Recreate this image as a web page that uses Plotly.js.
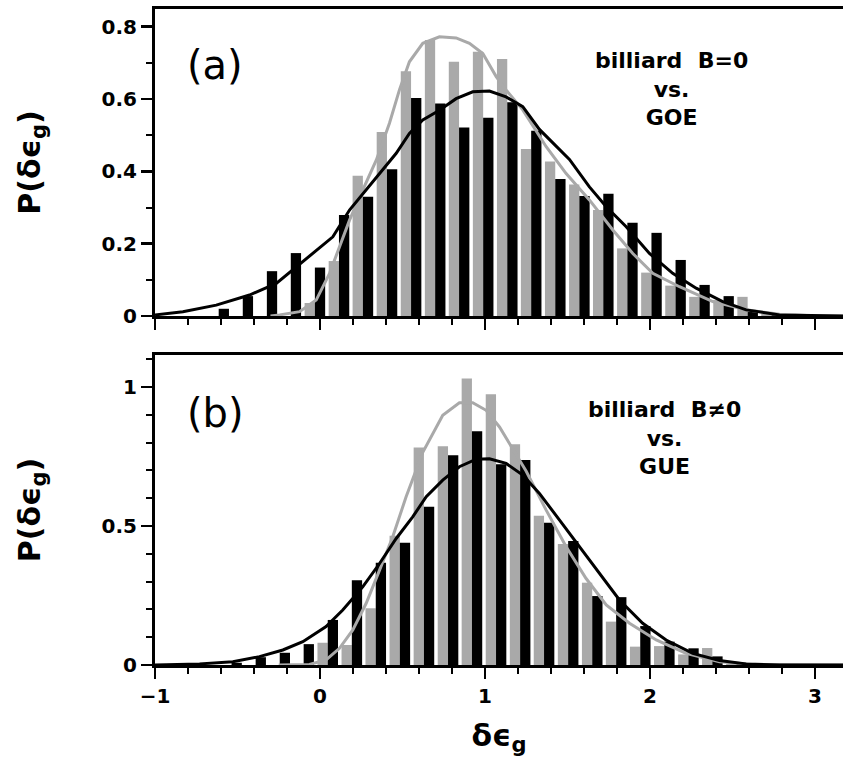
<!DOCTYPE html>
<html>
<head>
<meta charset="utf-8">
<script src="https://cdn.plot.ly/plotly-3.0.1.min.js"></script>
<style>html,body{margin:0;padding:0;background:#fff;}</style>
</head>
<body>
<div id="chart" style="width:843px;height:781px;"></div>
<script>
// ---------- Panel (a): billiard B=0 vs. GOE ----------
const binsA = [-0.614,-0.468,-0.322,-0.177,-0.031,0.115,0.260,0.406,0.552,0.698,0.843,0.989,1.135,1.280,1.426,1.572,1.717,1.863,2.009,2.155,2.300,2.446,2.592,2.737];
const grayA = [0,0,0,0,0.036,0.152,0.388,0.509,0.677,0.763,0.703,0.731,0.711,0.462,0.427,0.364,0.293,0.187,0.120,0.084,0.053,0.044,0.053,0.007];
const blackA = [0.020,0.055,0.124,0.174,0.134,0.279,0.330,0.406,0.603,0.588,0.521,0.548,0.591,0.512,0.379,0.332,0.338,0.258,0.230,0.155,0.086,0.055,0.011,0.002];

const grayCurveAx = [-0.30,-0.245,-0.124,-0.023,0.058,0.118,0.179,0.259,0.341,0.421,0.482,0.542,0.623,0.724,0.825,0.906,0.987,1.068,1.128,1.229,1.371,1.492,1.633,1.775,1.896,2.017,2.179,2.381,2.583,2.785,2.985,3.17];
const grayCurveAy = [0,0.003,0.012,0.044,0.118,0.192,0.265,0.348,0.431,0.533,0.626,0.703,0.754,0.772,0.769,0.754,0.726,0.662,0.625,0.570,0.468,0.394,0.321,0.238,0.173,0.118,0.081,0.040,0.017,0.005,0.001,0];
const blackCurveAx = [-1.0,-0.831,-0.629,-0.427,-0.265,-0.165,-0.064,0.078,0.179,0.280,0.381,0.462,0.542,0.623,0.724,0.825,0.926,1.027,1.128,1.229,1.330,1.512,1.633,1.735,1.856,1.997,2.138,2.280,2.441,2.583,2.785,3.17];
const blackCurveAy = [0.003,0.012,0.030,0.058,0.090,0.127,0.164,0.219,0.293,0.349,0.404,0.450,0.505,0.542,0.569,0.601,0.620,0.622,0.606,0.579,0.516,0.433,0.357,0.302,0.247,0.173,0.118,0.077,0.040,0.017,0.003,0];

// ---------- Panel (b): billiard B≠0 vs. GUE ----------
const binsB = [-0.536,-0.390,-0.244,-0.099,0.047,0.193,0.338,0.484,0.630,0.776,0.921,1.067,1.213,1.358,1.504,1.650,1.795,1.941,2.087,2.233,2.378,2.524];
const grayB = [0,0,0,0,0.080,0.072,0.204,0.465,0.782,0.787,1.030,0.974,0.794,0.537,0.435,0.296,0.156,0.066,0.068,0.038,0.061,0.005];
const blackB = [0.008,0.028,0.044,0.075,0.162,0.305,0.368,0.440,0.569,0.754,0.841,0.722,0.737,0.512,0.446,0.248,0.244,0.140,0.084,0.060,0.031,0.003];

const grayCurveBx = [-0.25,-0.064,0.037,0.118,0.199,0.280,0.361,0.441,0.522,0.623,0.744,0.845,0.926,1.007,1.088,1.168,1.250,1.371,1.492,1.613,1.735,1.876,2.038,2.219,2.421,2.623,3.17];
const grayCurveBy = [0,0.002,0.018,0.060,0.126,0.222,0.341,0.461,0.605,0.765,0.898,0.943,0.943,0.916,0.856,0.778,0.697,0.557,0.425,0.311,0.216,0.150,0.090,0.042,0.012,0.002,0];
const blackCurveBx = [-1.0,-0.730,-0.528,-0.367,-0.225,-0.104,0.037,0.138,0.259,0.361,0.462,0.562,0.644,0.744,0.845,0.947,1.027,1.128,1.229,1.330,1.452,1.573,1.694,1.815,1.956,2.098,2.259,2.421,2.583,2.785,3.17];
const blackCurveBy = [0,0.004,0.012,0.030,0.054,0.084,0.138,0.198,0.281,0.365,0.455,0.533,0.605,0.665,0.713,0.740,0.742,0.725,0.683,0.617,0.521,0.425,0.329,0.234,0.150,0.090,0.042,0.016,0.004,0,0];

const labelsA = ["billiard  B=0", "vs.", "GOE"];
const labelsB = ["billiard  B≠0", "vs.", "GUE"];

const GRAY = '#a9a9a9';
const BLACK = '#000000';
const FONT = 'DejaVu Sans, Liberation Sans, Arial, sans-serif';

function bar(x, y, color, xa, ya) {
  return {type:'bar', x:x, y:y, marker:{color:color, line:{width:0}}, xaxis:xa, yaxis:ya, showlegend:false, hoverinfo:'skip'};
}
function line(x, y, color, xa, ya) {
  return {type:'scatter', mode:'lines', x:x, y:y, line:{color:color, width:3}, xaxis:xa, yaxis:ya, showlegend:false, hoverinfo:'skip', cliponaxis:true};
}

const data = [
  bar(binsA, grayA, GRAY, 'x', 'y'),
  bar(binsA, blackA, BLACK, 'x', 'y'),
  line(grayCurveAx, grayCurveAy, GRAY, 'x', 'y'),
  line(blackCurveAx, blackCurveAy, BLACK, 'x', 'y'),
  bar(binsB, grayB, GRAY, 'x2', 'y2'),
  bar(binsB, blackB, BLACK, 'x2', 'y2'),
  line(grayCurveBx, grayCurveBy, GRAY, 'x2', 'y2'),
  line(blackCurveBx, blackCurveBy, BLACK, 'x2', 'y2')
];

const tickFont = {family: FONT, size: 20, color: '#000', weight: 'bold'};
const titleFont = {family: FONT, size: 30, color: '#000', weight: 'bold'};

function xax(showLabels, anchor) {
  return {
    anchor: anchor, domain:[0,1], range:[-1, 3.17], showgrid:false, zeroline:false,
    showline:true, linewidth:3, linecolor:'#000', mirror:true,
    ticks:'outside', ticklen:11, tickwidth:2.5, tickcolor:'#000', dtick:1, tick0:0,
    minor:{dtick:0.2, tick0:0, ticks:'outside', ticklen:6, tickwidth:2, tickcolor:'#000', showgrid:false},
    showticklabels: showLabels, tickfont: tickFont
  };
}
function yax(domain, range, dtick, anchor, title) {
  return {
    anchor: anchor, domain: domain, range: range, showgrid:false, zeroline:false,
    showline:true, linewidth:3, linecolor:'#000', mirror:false,
    ticks:'outside', ticklen:11, tickwidth:2.5, tickcolor:'#000', dtick:dtick, tick0:0,
    minor:{dtick:0.1, tick0:0, ticks:'outside', ticklen:6, tickwidth:2, tickcolor:'#000', showgrid:false},
    tickfont: tickFont,
    title: {text: title, font: titleFont, standoff: 53}
  };
}

const annotations = [];
function txt(text, x, y, xa, ya, size, weight) {
  annotations.push({text:text, x:x, y:y, xref:xa, yref:ya, showarrow:false, xanchor:'center', yanchor:'middle', align:'center',
    font:{family:FONT, size:size, color:'#000', weight:weight}});
}
txt('(a)', -0.636, 0.694, 'x', 'y', 40, 'normal');
txt('(b)', -0.636, 0.906, 'x2', 'y2', 40, 'normal');
txt(labelsA.join('<br>'), 2.133, 0.628, 'x', 'y', 22, 'bold');
txt(labelsB.join('<br>'), 2.091, 0.817, 'x2', 'y2', 22, 'bold');

const layout = {
  width: 843, height: 781,
  margin: {l:155, r:0, t:9, b:116},
  paper_bgcolor:'#fff', plot_bgcolor:'#fff',
  barmode:'group', bargap:0.14, bargroupgap:0,
  xaxis: xax(false, 'y'),
  yaxis: yax([0.532, 1], [0, 0.849], 0.2, 'x', 'P(δϵ<sub>g</sub>)'),
  xaxis2: Object.assign(xax(true, 'y2'), {title:{text:'δϵ<sub>g</sub>', font:titleFont, standoff:18}}),
  yaxis2: yax([0, 0.4726], [0, 1.115], 0.5, 'x2', 'P(δϵ<sub>g</sub>)'),
  annotations: annotations,
  showlegend:false
};

Plotly.newPlot('chart', data, layout, {staticPlot:true, displayModeBar:false});
</script>
</body>
</html>
